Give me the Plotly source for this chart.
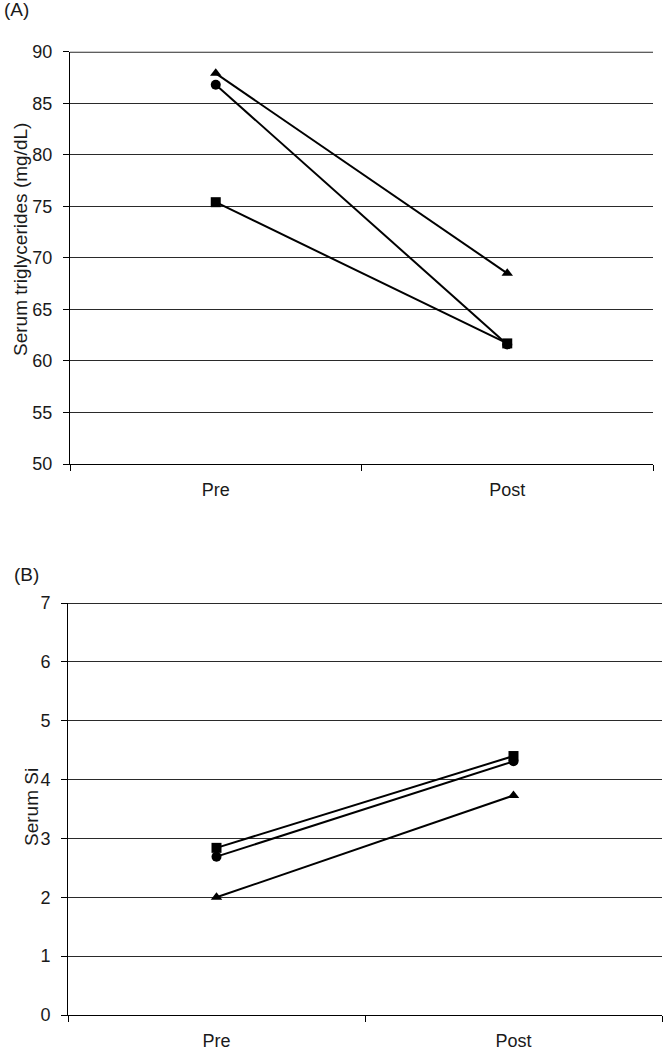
import plotly.graph_objects as go

categories = ["Pre", "Post"]

# Panel A: serum triglycerides (mg/dL)
tg_triangle = [87.9, 68.5]
tg_circle = [86.8, 61.6]
tg_square = [75.4, 61.7]

# Panel B: serum Si
si_square = [2.84, 4.40]
si_circle = [2.69, 4.31]
si_triangle = [2.00, 3.73]

y_a_range = [50, 90]
y_b_range = [0, 7]

W, H = 667, 1050
fig = go.Figure()

def add(y, sym, xa, ya):
    fig.add_trace(go.Scatter(
        x=categories, y=y, mode="lines+markers",
        line=dict(color="black", width=2),
        marker=dict(symbol=sym, size=10, color="black"),
        xaxis=xa, yaxis=ya, showlegend=False, cliponaxis=False))

add(tg_triangle, "triangle-up", "x", "y")
add(tg_circle, "circle", "x", "y")
add(tg_square, "square", "x", "y")
add(si_square, "square", "x2", "y2")
add(si_circle, "circle", "x2", "y2")
add(si_triangle, "triangle-up", "x2", "y2")

FAM = "Liberation Sans, Arial, sans-serif"
tfont = dict(family=FAM, size=18, color="#1a1a1a")
lfont = dict(family=FAM, size=19, color="#1a1a1a")

def xax(dom, anchor):
    return dict(domain=dom, anchor=anchor, type="category", range=[-0.5, 1.5],
                tickson="boundaries", ticks="outside", ticklen=6, tickcolor="black",
                showline=True, linecolor="black", linewidth=1, showgrid=False,
                tickfont=tfont, zeroline=False, ticklabelstandoff=9, automargin=False)

def yax(dom, anchor, rng, dt):
    return dict(domain=dom, anchor=anchor, range=rng, dtick=dt, tick0=rng[0],
                ticks="outside", ticklen=6, tickcolor="black",
                showline=True, linecolor="black", linewidth=1,
                showgrid=True, gridcolor="#2a2a2a", gridwidth=1, zeroline=False,
                tickfont=tfont, ticklabelstandoff=7, automargin=False)

def px(xp, yp):
    return xp / W, 1 - yp / H

ann = []
for text, xp, yp, ang, xa in [
    ("(A)", 2, 10, 0, "left"),
    ("(B)", 12, 574, 0, "left"),
    ("Serum triglycerides (mg/dL)", 21, 240, -90, "center"),
    ("Serum Si", 31, 807, -90, "center"),
]:
    x, y = px(xp, yp)
    ann.append(dict(text=text, x=x, y=y, xref="paper", yref="paper",
                    xanchor=xa, yanchor="middle", textangle=ang,
                    showarrow=False, font=lfont))

shapes = [
    dict(type="line", xref="x domain", yref="y", x0=0, x1=1,
         y0=y_a_range[1], y1=y_a_range[1], line=dict(color="#2a2a2a", width=2)),
    dict(type="line", xref="x2 domain", yref="y2", x0=0, x1=1,
         y0=y_b_range[1], y1=y_b_range[1], line=dict(color="#2a2a2a", width=2)),
]

fig.update_layout(
    width=W, height=H,
    margin=dict(l=0, r=0, t=0, b=0, pad=0, autoexpand=False),
    paper_bgcolor="white", plot_bgcolor="white", font=tfont,
    xaxis=xax([70 / W, 653 / W], "y"),
    yaxis=yax([1 - 464 / H, 1 - 51.7 / H], "x", y_a_range, 5),
    xaxis2=xax([68 / W, 662 / W], "y2"),
    yaxis2=yax([1 - 1015 / H, 1 - 603 / H], "x2", y_b_range, 1),
    annotations=ann,
    shapes=shapes,
)

fig.write_html("out.html", config={"displayModeBar": False},
               post_script="document.body.style.margin='0';")
